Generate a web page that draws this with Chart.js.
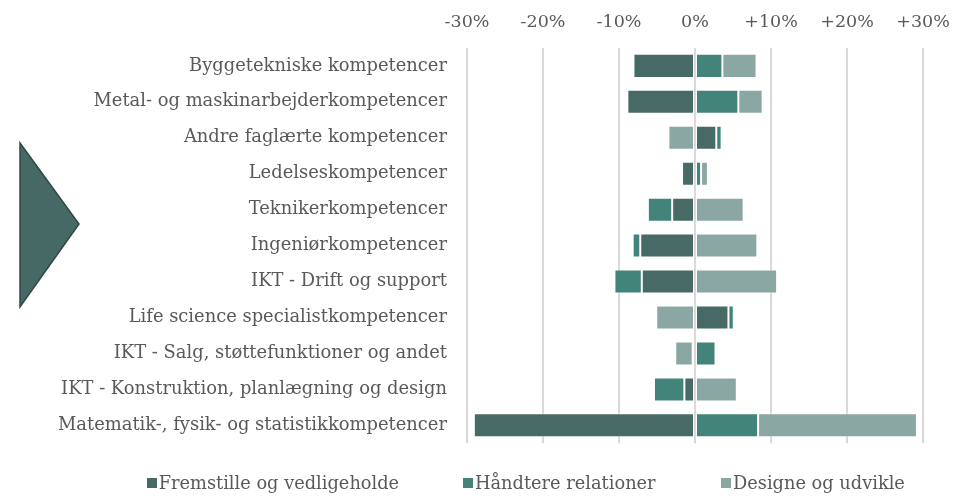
<!DOCTYPE html>
<html>
<head>
<meta charset="utf-8">
<script src="https://cdn.jsdelivr.net/npm/chart.js@4/dist/chart.umd.min.js"></script>
<style>
  html, body { margin: 0; padding: 0; background: #ffffff; }
  #wrap { position: relative; width: 966px; height: 496px; overflow: hidden; }
  #c { position: absolute; left: 0; top: 0; }
  #tri { position: absolute; left: 0; top: 0; }
  #legend { position: absolute; left: 0; top: 471px; width: 966px; height: 24px;
            font-family: "DejaVu Serif", serif; font-size: 17.8px; color: #595959; }
  .item { position: absolute; top: 0; white-space: nowrap; line-height: 24px; }
  .sw { display: inline-block; width: 10px; height: 10px; margin-right: 2px; vertical-align: 1px; }
</style>
</head>
<body>
<div id="wrap">
  <canvas id="c" width="966" height="496"></canvas>
  <svg id="tri" width="100" height="320">
    <polygon points="20,143 79,224 20,307" fill="#466965" stroke="#2e4844" stroke-width="1.5"/>
  </svg>
  <div id="legend"></div>
</div>
<script>
const categories = [
  'Byggetekniske kompetencer',
  'Metal- og maskinarbejderkompetencer',
  'Andre faglærte kompetencer',
  'Ledelseskompetencer',
  'Teknikerkompetencer',
  'Ingeniørkompetencer',
  'IKT - Drift og support',
  'Life science specialistkompetencer',
  'IKT - Salg, støttefunktioner og andet',
  'IKT - Konstruktion, planlægning og design',
  'Matematik-, fysik- og statistikkompetencer'
];
const seriesNames = ['Fremstille og vedligeholde', 'Håndtere relationer', 'Designe og udvikle'];
const fremstille = [-8.1, -8.9, 2.8, -1.7, -3.0, -7.2, -7.0, 4.4, -0.3, -1.4, -29.1];
const haandtere  = [3.6, 5.7, 0.7, 0.8, -3.2, -1.0, -3.6, 0.7, 2.7, -4.0, 8.3];
const designe    = [4.5, 3.2, -3.5, 0.9, 6.4, 8.2, 10.8, -5.1, -2.3, 5.5, 20.9];
const tickValues = [-30, -20, -10, 0, 10, 20, 30];
const colors = ['#476a66', '#42847a', '#8ba7a4'];

const FONT = '"DejaVu Serif", serif';
const TXT = '#595959';

const zeroLine = {
  id: 'zeroLine',
  afterDatasetsDraw(chart) {
    const x = chart.scales.x.getPixelForValue(0);
    const a = chart.chartArea;
    const ctx = chart.ctx;
    ctx.save();
    ctx.strokeStyle = '#d9d9d9';
    ctx.lineWidth = 2;
    ctx.beginPath();
    ctx.moveTo(x, a.top);
    ctx.lineTo(x, a.bottom);
    ctx.stroke();
    ctx.restore();
  }
};

const values = [fremstille, haandtere, designe];
new Chart(document.getElementById('c'), {
  type: 'bar',
  data: {
    labels: categories,
    datasets: seriesNames.map((n, i) => ({
      label: n,
      data: values[i],
      backgroundColor: colors[i],
      borderColor: 'rgba(255,255,255,0.45)',
      borderWidth: 1,
      borderSkipped: false,
      barPercentage: 0.668,
      categoryPercentage: 1.0
    }))
  },
  options: {
    indexAxis: 'y',
    responsive: false,
    animation: false,
    devicePixelRatio: 1,
    layout: { padding: { left: 0, right: 43, top: 0, bottom: 52.7 } },
    plugins: { legend: { display: false }, tooltip: { enabled: false } },
    scales: {
      x: {
        position: 'top',
        stacked: true,
        min: -30, max: 30,
        afterBuildTicks(scale) { scale.ticks = tickValues.map(v => ({ value: v })); },
        afterFit(scale) { scale.height = 47.9; },
        ticks: {
          padding: 15,
          color: TXT,
          font: { family: FONT, size: 17.5 },
          callback: v => (v > 0 ? '+' : '') + v + '%',
          maxRotation: 0
        },
        grid: { color: '#d9d9d9', lineWidth: 2, drawTicks: false },
        border: { display: false }
      },
      y: {
        stacked: true,
        afterFit(scale) { scale.width = 467; },
        ticks: { padding: 20, color: TXT, font: { family: FONT, size: 17.9 } },
        grid: { display: false, drawTicks: false },
        border: { display: false }
      }
    }
  },
  plugins: [zeroLine]
});

const legendPos = [146.7, 463, 721];
const lg = document.getElementById('legend');
seriesNames.forEach((n, i) => {
  const d = document.createElement('div');
  d.className = 'item';
  d.style.left = legendPos[i] + 'px';
  d.innerHTML = '<span class="sw" style="background:' + colors[i] + '"></span>' + n;
  lg.appendChild(d);
});
</script>
</body>
</html>
